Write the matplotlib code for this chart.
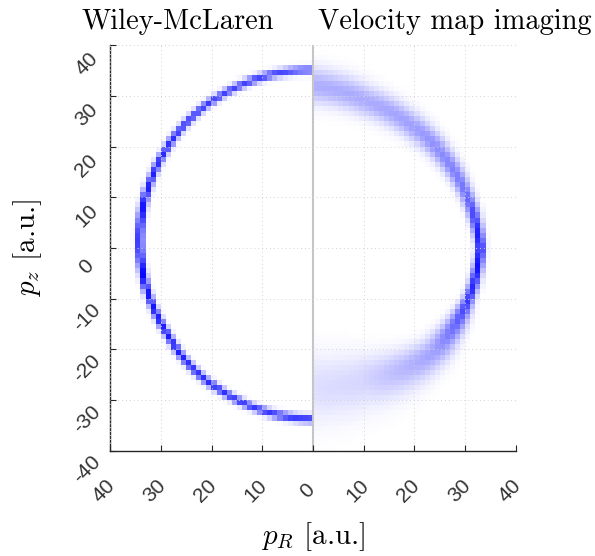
import numpy as np
import matplotlib
matplotlib.use('Agg')
import matplotlib.pyplot as plt
from matplotlib.colors import LinearSegmentedColormap
from matplotlib.transforms import ScaledTranslation

# ring: polar angle from +p_z (deg), radius, width, strength
left_theta = [0, 30, 60, 90, 120, 150, 180]
left_radius = [35.0, 35.2, 34.9, 34.1, 33.4, 33.5, 33.7]
left_width = [0.55, 0.55, 0.55, 0.5, 0.55, 0.55, 0.55]
left_amp = [0.7, 0.75, 0.85, 1.0, 0.9, 0.8, 0.75]

right_theta = [0, 20, 40, 70, 90, 108, 130, 160, 180]
right_radius = [32.0, 30.8, 31.0, 32.0, 33.0, 32.3, 31.5, 28.0, 27.5]
right_width = [2.4, 2.1, 1.7, 1.0, 0.6, 0.8, 2.0, 4.0, 4.8]
right_amp = [0.32, 0.33, 0.38, 0.55, 1.0, 0.8, 0.38, 0.16, 0.13]

xtick_vals = [-40, -30, -20, -10, 0, 10, 20, 30, 40]
xtick_labels = ['40', '30', '20', '10', '0', '10', '20', '30', '40']
ytick_vals = [-40, -30, -20, -10, 0, 10, 20, 30, 40]
ytick_labels = ['-40', '-30', '-20', '-10', '0', '10', '20', '30', '40']

# 1 a.u. bins
edges = np.arange(-40, 41, 1.0)
centers = 0.5 * (edges[:-1] + edges[1:])
pr, pz = np.meshgrid(centers, centers)
r = np.hypot(pr, pz)
th = np.degrees(np.arccos(pz / r))

def ring(theta, radius, width, amp):
    R = np.interp(th, theta, radius)
    s = np.interp(th, theta, width)
    a = np.interp(th, theta, amp)
    return a * np.exp(-(r - R) ** 2 / (2 * s ** 2))

img = np.where(pr < 0, ring(left_theta, left_radius, left_width, left_amp),
               ring(right_theta, right_radius, right_width, right_amp))

cmap = LinearSegmentedColormap.from_list('wb', ['white', '#0000ff'])

plt.rcParams['mathtext.fontset'] = 'cm'
plt.rcParams['axes.formatter.use_mathtext'] = True

fig = plt.figure(figsize=(5.95, 5.56), dpi=100)
ax = fig.add_axes([0.185, 0.189, 0.682, 0.730])

ax.imshow(img, cmap=cmap, vmin=0, vmax=1, origin='lower',
          extent=[-40, 40, -40, 40], interpolation='nearest', aspect='equal')
ax.axvline(0, color='#c4c4c4', lw=1.5)

ax.set_xlim(-40, 40)
ax.set_ylim(-40, 40)
ax.grid(True, ls=(0, (1, 3)), color='#d2d2d2', lw=0.7)
ax.set_axisbelow(False)

for side in ['top', 'right']:
    ax.spines[side].set_visible(False)
for side in ['left', 'bottom']:
    ax.spines[side].set_color('#262626')
    ax.spines[side].set_linewidth(1.0)

tick_font = dict(fontsize=15, family='Liberation Sans', color='#333333')
ax.set_xticks(xtick_vals)
ax.set_yticks(ytick_vals)
ax.tick_params(direction='in', length=4, width=0.8, color='#262626')
ax.tick_params(axis='x', pad=29)
ax.tick_params(axis='y', pad=17)
ax.set_xticklabels(xtick_labels, rotation=45, ha='center', va='center', **tick_font)
ax.set_yticklabels(ytick_labels, rotation=45, ha='center', va='center', **tick_font)

dx = ScaledTranslation(-6 / 100, 0, fig.dpi_scale_trans)
dy = ScaledTranslation(0, -19 / 100, fig.dpi_scale_trans)
for lab in ax.get_xticklabels():
    lab.set_transform(lab.get_transform() + dx)
for lab in ax.get_yticklabels():
    lab.set_transform(lab.get_transform() + dy)

ax.set_xlabel(r'$p_R$ [a.u.]', family='cmr10', fontsize=21, labelpad=10)
ax.set_ylabel(r'$p_z$ [a.u.]', family='cmr10', fontsize=21, labelpad=18)

fig.text(178 / 595, 1 - 29 / 556, 'Wiley-McLaren', family='cmr10', fontsize=20.5,
         ha='center', va='baseline')
fig.text(455 / 595, 1 - 29 / 556, 'Velocity map imaging', family='cmr10', fontsize=20.5,
         ha='center', va='baseline')

fig.savefig('out.png', dpi=100)
